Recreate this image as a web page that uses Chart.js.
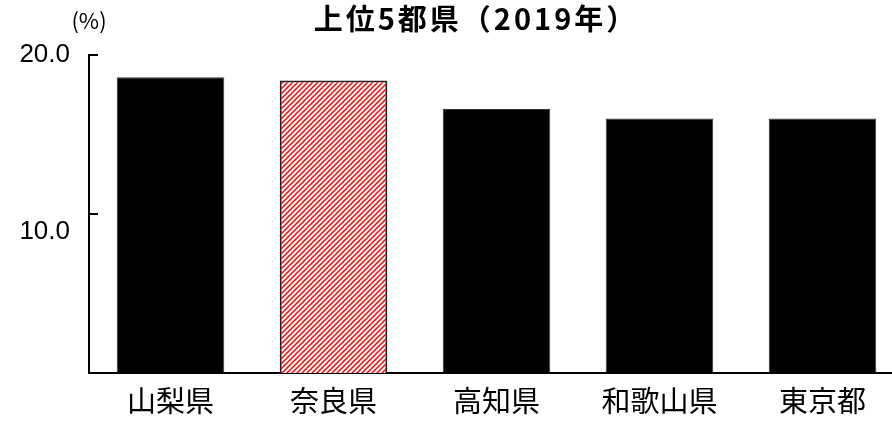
<!DOCTYPE html>
<html>
<head>
<meta charset="utf-8">
<script src="https://cdn.jsdelivr.net/npm/chart.js@4"></script>
<style>
  html, body { margin: 0; padding: 0; background: #fff; overflow: hidden; }
  #wrap { width: 904px; height: 428px; }
</style>
</head>
<body>
<div id="wrap"><canvas id="chart"></canvas></div>
<script>
// prefectures and their rate (%)
const prefectures = ['山梨県', '奈良県', '高知県', '和歌山県', '東京都'];
const rates = [18.6, 18.4, 16.6, 16.0, 16.0];
const yTicks = [10, 20];
const highlight = '奈良県';

const JP = '"Noto Sans CJK JP", "Noto Sans CJK SC", sans-serif';

// red diagonal hatch used for the highlighted prefecture
function makeHatch() {
  const c = document.createElement('canvas');
  c.width = 5; c.height = 5;
  const g = c.getContext('2d');
  g.fillStyle = '#fff';
  g.fillRect(0, 0, 5, 5);
  g.strokeStyle = '#ff0000';
  g.lineWidth = 1.5;
  g.beginPath();
  g.moveTo(-1, 6); g.lineTo(6, -1);
  g.moveTo(-1, 1); g.lineTo(1, -1);
  g.moveTo(4, 6); g.lineTo(6, 4);
  g.stroke();
  return g.createPattern(c, 'repeat');
}
const ctx = document.getElementById('chart').getContext('2d');
const hatch = makeHatch();

// axis ticks point inward, labels drawn beside them, plus title and unit
const decorations = {
  id: 'decorations',
  afterDraw(chart) {
    const { ctx, chartArea, scales } = chart;
    const y = scales.y;
    ctx.save();
    ctx.strokeStyle = '#000';
    ctx.lineWidth = 2;
    ctx.fillStyle = '#000';
    ctx.font = '26px "Liberation Sans", Arial, sans-serif';
    ctx.textAlign = 'right';
    ctx.textBaseline = 'middle';
    yTicks.forEach(v => {
      const py = Math.round(y.getPixelForValue(v));
      ctx.beginPath();
      ctx.moveTo(chartArea.left, py);
      ctx.lineTo(chartArea.left + 9, py);
      ctx.stroke();
      const shift = v === 10 ? 18 : 0;
      ctx.fillText(v.toFixed(1), 70, py + shift);
    });
    ctx.font = '22px ' + JP;
    ctx.textAlign = 'center';
    ctx.fillText('(%)', 89, 21);
    ctx.font = 'bold 29px ' + JP;
    ctx.letterSpacing = '3px';
    ctx.fillText('上位5都県（2019年）', 476, 19);
    ctx.restore();
  }
};

new Chart(ctx, {
  type: 'bar',
  data: {
    labels: prefectures,
    datasets: [{
      data: rates,
      backgroundColor: prefectures.map(p => p === highlight ? hatch : '#000'),
      borderColor: prefectures.map(p => p === highlight ? '#222' : '#333'),
      borderWidth: prefectures.map(p => p === highlight ? 2 : 1),
      barPercentage: 0.66,
      categoryPercentage: 1.0
    }]
  },
  options: {
    responsive: true,
    maintainAspectRatio: false,
    animation: false,
    layout: { padding: { top: 55, right: 0, left: 0, bottom: 0 } },
    plugins: {
      legend: { display: false },
      tooltip: { enabled: false },
      title: { display: false }
    },
    scales: {
      x: {
        grid: { display: false, drawTicks: false },
        border: { display: true, color: '#000', width: 2 },
        ticks: {
          color: '#000',
          font: { family: JP, size: 29 },
          padding: 11,
          maxRotation: 0,
          autoSkip: false
        },
        afterFit(scale) { scale.height = 55; }
      },
      y: {
        min: 0,
        max: 20,
        grid: { display: false, drawTicks: false },
        border: { display: true, color: '#000', width: 2 },
        ticks: { display: false },
        afterFit(scale) { scale.width = 89; }
      }
    }
  },
  plugins: [decorations]
});
</script>
</body>
</html>
